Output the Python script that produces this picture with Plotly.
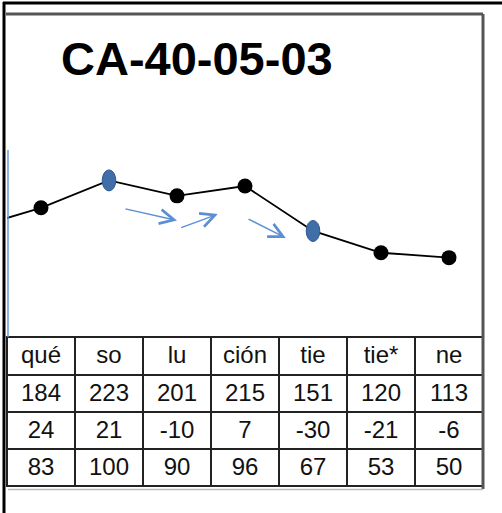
import plotly.graph_objects as go

# ---- data ----
title_text = "CA-40-05-03"
syllables = ["qué", "so", "lu", "ción", "tie", "tie*", "ne"]
row_values = [184, 223, 201, 215, 151, 120, 113]
row_diffs = [24, 21, -10, 7, -30, -21, -6]
row_percent = [83, 100, 90, 96, 67, 53, 50]
prev_value = 155          # preceding point, cut off at the left edge
highlight_idx = [1, 4]    # syllables drawn with blue markers

W, H = 502, 513
def px(x):
    return x / W
def py(y):
    return 1 - y / H

idx = list(range(len(syllables)))

fig = go.Figure()

# line with black markers
fig.add_trace(go.Scatter(
    x=[-1] + idx, y=[prev_value] + row_values,
    mode="lines", line=dict(color="black", width=1.8),
    hoverinfo="skip", showlegend=False))
fig.add_trace(go.Scatter(
    x=[i for i in idx if i not in highlight_idx],
    y=[v for i, v in zip(idx, row_values) if i not in highlight_idx],
    mode="markers", marker=dict(color="black", size=15),
    hoverinfo="skip", showlegend=False, cliponaxis=False))

# blue elliptical markers
for i in highlight_idx:
    fig.add_shape(type="circle", xref="x", yref="y",
                  x0=i - 0.1, x1=i + 0.1,
                  y0=row_values[i] - 15, y1=row_values[i] + 15,
                  fillcolor="#3F6EA8", line=dict(color="#2F5A8C", width=1),
                  layer="above")

# hand-drawn arrows
arrows = [((1.22, 183), (2.0, 166)),
          ((2.04, 155), (2.60, 175)),
          ((3.03, 169), (3.60, 141))]
for (tx, ty), (hx, hy) in arrows:
    fig.add_annotation(x=hx, y=hy, ax=tx, ay=ty, xref="x", yref="y",
                       axref="x", ayref="y", text="", showarrow=True,
                       arrowhead=5, arrowsize=2.0, arrowwidth=1.4,
                       arrowcolor="#5B8FD3")

# table
tfont = dict(family="Liberation Sans, Arial", size=24, color="#111")
fig.add_trace(go.Table(
    domain=dict(x=[px(7), px(483)], y=[py(489), py(337)]),
    columnwidth=[1] * len(syllables),
    header=dict(values=syllables, height=38, align="center",
                fill_color="white", line=dict(color="#222", width=2),
                font=tfont),
    cells=dict(values=[[a, b, c] for a, b, c in zip(row_values, row_diffs, row_percent)],
               height=37, align="center",
               fill_color="white", line=dict(color="#222", width=2),
               font=tfont),
))

# title
fig.add_annotation(text="<b>" + title_text + "</b>", xref="paper", yref="paper",
                   x=px(197), y=py(58), xanchor="center", yanchor="middle",
                   showarrow=False,
                   font=dict(family="Liberation Sans, Arial", size=47, color="black"))

# frame lines
fig.add_shape(type="line", xref="paper", yref="paper", x0=px(6), x1=px(483),
              y0=py(14), y1=py(14), line=dict(color="#555", width=3))
fig.add_shape(type="line", xref="paper", yref="paper", x0=px(483), x1=px(483),
              y0=py(14), y1=py(489), line=dict(color="#555", width=3))
fig.add_shape(type="line", xref="paper", yref="paper", x0=px(8), x1=px(483),
              y0=py(489.5), y1=py(489.5), line=dict(color="#BBB", width=1.5))
fig.add_shape(type="line", xref="paper", yref="paper", x0=px(3), x1=px(502),
              y0=py(3), y1=py(3), line=dict(color="black", width=3))
fig.add_shape(type="line", xref="paper", yref="paper", x0=px(4), x1=px(4),
              y0=py(2), y1=py(513), line=dict(color="black", width=3))
fig.add_shape(type="line", xref="paper", yref="paper", x0=px(8), x1=px(8),
              y0=py(150), y1=py(337), line=dict(color="#6A9BD8", width=1.5))

fig.update_xaxes(domain=[px(7), px(483)], range=[-0.5, len(syllables) - 0.5],
                 visible=False, showgrid=False, zeroline=False)
fig.update_yaxes(domain=[py(337), py(14)], range=[0, 460],
                 visible=False, showgrid=False, zeroline=False)

fig.update_layout(width=W, height=H, margin=dict(l=0, r=0, t=0, b=0),
                  paper_bgcolor="white", plot_bgcolor="white", showlegend=False)

fig.write_html("out.html", config={"displayModeBar": False},
               post_script="document.body.style.margin='0';document.body.style.overflow='hidden';")
